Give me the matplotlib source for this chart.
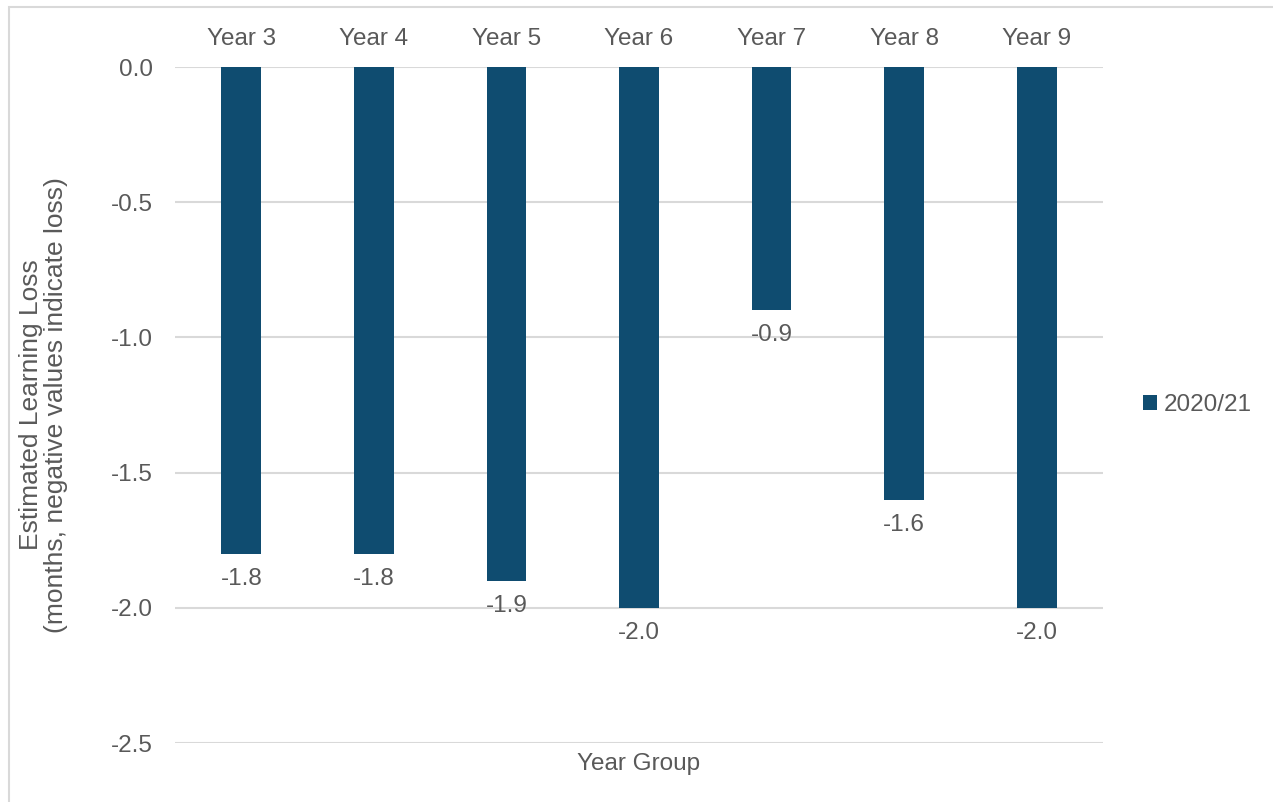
import numpy as np
import matplotlib.pyplot as plt
from matplotlib.patches import Rectangle

plt.rcParams['font.family'] = ['Liberation Sans', 'DejaVu Sans']

year_groups = ['Year 3', 'Year 4', 'Year 5', 'Year 6', 'Year 7', 'Year 8', 'Year 9']
loss_2020_21 = [-1.8, -1.8, -1.9, -2.0, -0.9, -1.6, -2.0]
series_name = '2020/21'

bar_color = '#0F4C70'
text_color = '#595959'
grid_color = '#D9D9D9'
fs = 17.5

fig = plt.figure(figsize=(12.73, 8.02), dpi=100)
ax = fig.add_axes([175 / 1273, 1 - 743 / 802, 928 / 1273, 676 / 802])

x = np.arange(len(year_groups))
bars = ax.bar(x, loss_2020_21, width=0.3, color=bar_color, label=series_name, zorder=3)

for xi, v in zip(x, loss_2020_21):
    ax.annotate('%.1f' % v, (xi, v), xytext=(0, -10), textcoords='offset points',
                ha='center', va='top', fontsize=fs, color=text_color)

ax.set_xlim(-0.5, len(year_groups) - 0.5)
ax.set_ylim(-2.5, 0)
ax.set_yticks([0, -0.5, -1.0, -1.5, -2.0, -2.5])
ax.set_yticklabels(['%.1f' % t for t in [0, -0.5, -1.0, -1.5, -2.0, -2.5]])
ax.xaxis.tick_top()
ax.set_xticks(x)
ax.set_xticklabels(year_groups)
ax.tick_params(axis='both', length=0, labelsize=fs, labelcolor=text_color)
ax.tick_params(axis='x', pad=12)
ax.tick_params(axis='y', pad=16)
ax.grid(axis='y', color=grid_color, linewidth=1.5, zorder=0)
for s in ax.spines.values():
    s.set_visible(False)

ax.set_xlabel('Year Group', fontsize=fs, color=text_color)
ax.xaxis.set_label_position('bottom')
ax.xaxis.set_label_coords(0.5, -0.015)
ax.set_ylabel('Estimated Learning Loss\n(months, negative values indicate loss)',
              fontsize=19, color=text_color, linespacing=1.05)
ax.yaxis.set_label_coords(-0.115, 0.5)

ax.legend(loc='center left', bbox_to_anchor=(1.043, 0.5), frameon=False,
          fontsize=fs, labelcolor=text_color, handlelength=0.6, handleheight=0.6,
          handletextpad=0.25, borderpad=0, borderaxespad=0)

fig.patches.append(Rectangle((9 / 1273, -0.02), 1.1, 1 - 7 / 802 + 0.02,
                             transform=fig.transFigure, fill=False,
                             edgecolor=grid_color, linewidth=1.5))

fig.savefig('out.png', dpi=100)
